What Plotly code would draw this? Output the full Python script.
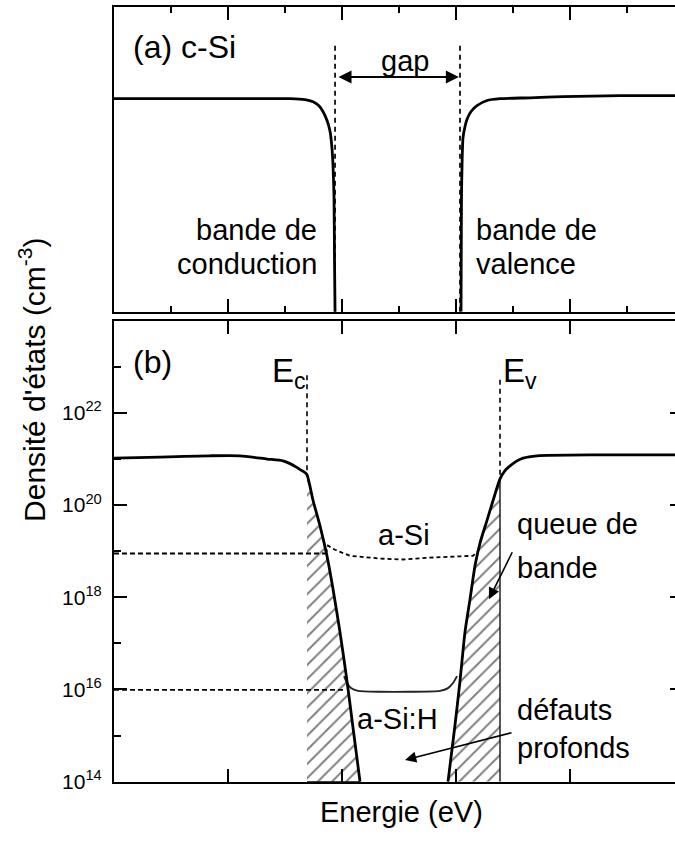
import plotly.graph_objects as go

# ---------------- (a) c-Si : density of states (linear, normalised) -------------
cb_c_energy = [0.000, 0.754, 1.193, 1.544, 1.675, 1.746, 1.798, 1.833, 1.868,
               1.895, 1.912, 1.921, 1.930, 1.934, 1.939]
cb_c_dos = [0.699, 0.699, 0.699, 0.699, 0.696, 0.689, 0.676, 0.657, 0.628,
            0.592, 0.537, 0.482, 0.375, 0.181, 0.000]

vb_c_energy = [3.044, 3.048, 3.053, 3.061, 3.079, 3.096, 3.132, 3.184, 3.272,
               3.386, 3.649, 3.939, 4.439, 4.921]
vb_c_dos = [0.000, 0.375, 0.482, 0.570, 0.608, 0.631, 0.657, 0.676, 0.693,
            0.699, 0.702, 0.706, 0.709, 0.709]

gap_edges_c = [1.939, 3.035]      # band edges of c-Si
gap_marker_top = 0.877
gap_arrow_level = 0.770

# ---------------- (b) a-Si / a-Si:H : log10 of density of states -----------------
cb_a_energy = [0.000, 0.404, 0.842, 1.105, 1.342, 1.482, 1.544, 1.596, 1.632,
               1.667, 1.693, 1.746, 1.807, 1.868, 1.921, 1.982, 2.044, 2.096, 2.158]
cb_a_logdos = [21.02, 21.04, 21.07, 21.07, 21.00, 20.96, 20.90, 20.83, 20.77,
               20.72, 20.66, 20.10, 19.55, 18.90, 18.18, 17.25, 16.18, 15.18, 14.00]

vb_a_energy = [2.930, 2.991, 3.035, 3.079, 3.123, 3.167, 3.211, 3.272, 3.325,
               3.386, 3.430, 3.474, 3.535, 3.588, 3.711, 4.237, 4.921]
vb_a_logdos = [14.00, 15.22, 16.18, 17.25, 17.96, 18.69, 19.18, 19.67, 20.10,
               20.57, 20.75, 20.85, 20.96, 21.02, 21.07, 21.09, 21.09]

# deep defect states of a-Si:H
deep_h_energy = [2.018, 2.044, 2.079, 2.140, 2.333, 2.596, 2.860, 2.930, 2.974, 3.009]
deep_h_logdos = [16.29, 16.14, 16.03, 15.97, 15.95, 15.95, 15.97, 16.03, 16.14, 16.29]

# deep defect states of a-Si
deep_a_energy = [1.860, 1.877, 1.939, 2.070, 2.333, 2.535, 2.772, 3.035, 3.149, 3.184]
deep_a_logdos = [18.95, 19.12, 19.03, 18.90, 18.84, 18.82, 18.86, 18.88, 18.90, 18.99]

# reference levels drawn from the density axis
level_asi = [0.000, 1.860, 18.95]     # x start, x end, log10 level
level_asih = [0.000, 2.026, 15.99]

Ec_b, Ev_b = 1.693, 3.386
Ec_top, Ev_top = 22.82, 22.72

major_exp = [14, 16, 18, 20, 22]
minor_exp = [15, 17, 19, 21, 23]
tick_text = ["10<sup>%d</sup>" % e for e in major_exp]

x_major = [1, 2, 3, 4]
x_minor = [0.5, 1.5, 2.5, 3.5, 4.5]

# ------------------------------------------------------------------------------
W, H = 675, 841
FONT = "Liberation Sans, Arial, sans-serif"
X_RANGE = [0, 4.921]


def px(v):
    return v / W


def py(v):
    return 1 - v / H


def dec(vals):
    return [10.0 ** v for v in vals]


fig = go.Figure()

line_kw = dict(color="black", width=2.8, shape="spline", smoothing=0.6)

# panel (a)
fig.add_trace(go.Scatter(x=cb_c_energy, y=cb_c_dos, mode="lines", line=line_kw,
                         xaxis="x", yaxis="y", hoverinfo="skip"))
fig.add_trace(go.Scatter(x=vb_c_energy, y=vb_c_dos, mode="lines", line=line_kw,
                         xaxis="x", yaxis="y", hoverinfo="skip"))
for e in gap_edges_c:
    fig.add_trace(go.Scatter(x=[e, e], y=[0, gap_marker_top], mode="lines",
                             line=dict(color="black", width=1.7, dash="5px,4px"),
                             xaxis="x", yaxis="y", hoverinfo="skip"))

# panel (b): hatched band tails
hatch = dict(shape="/", fgcolor="black", bgcolor="white", size=10, solidity=0.2)
sel_c = [i for i, v in enumerate(cb_a_energy) if v >= Ec_b]
tail_c_x = [cb_a_energy[i] for i in sel_c] + [Ec_b]
tail_c_y = [cb_a_logdos[i] for i in sel_c] + [major_exp[0]]
sel_v = [i for i, v in enumerate(vb_a_energy) if v <= Ev_b]
tail_v_x = [vb_a_energy[i] for i in sel_v] + [Ev_b]
tail_v_y = [vb_a_logdos[i] for i in sel_v] + [major_exp[0]]
for tx, ty in ((tail_c_x, tail_c_y), (tail_v_x, tail_v_y)):
    fig.add_trace(go.Scatter(x=tx, y=dec(ty), mode="lines", fill="toself",
                             fillcolor="white", fillpattern=hatch,
                             line=dict(color="black", width=1.3),
                             xaxis="x2", yaxis="y2", hoverinfo="skip"))

# band edge markers
fig.add_trace(go.Scatter(x=[Ec_b, Ec_b], y=dec([Ec_top, cb_a_logdos[cb_a_energy.index(Ec_b)]]),
                         mode="lines", line=dict(color="black", width=1.6, dash="5px,4px"),
                         xaxis="x2", yaxis="y2", hoverinfo="skip"))
fig.add_trace(go.Scatter(x=[Ev_b, Ev_b], y=dec([Ev_top, vb_a_logdos[vb_a_energy.index(Ev_b)]]),
                         mode="lines", line=dict(color="black", width=1.6, dash="5px,4px"),
                         xaxis="x2", yaxis="y2", hoverinfo="skip"))

# defect levels
for lv in (level_asi, level_asih):
    fig.add_trace(go.Scatter(x=lv[:2], y=dec([lv[2], lv[2]]), mode="lines",
                             line=dict(color="black", width=1.8, dash="5px,3px"),
                             xaxis="x2", yaxis="y2", hoverinfo="skip"))
fig.add_trace(go.Scatter(x=deep_a_energy, y=dec(deep_a_logdos), mode="lines",
                         line=dict(color="black", width=1.8, dash="4px,3px"),
                         xaxis="x2", yaxis="y2", hoverinfo="skip"))
fig.add_trace(go.Scatter(x=deep_h_energy, y=dec(deep_h_logdos), mode="lines",
                         line=dict(color="#222", width=1.9, shape="spline", smoothing=0.6),
                         xaxis="x2", yaxis="y2", hoverinfo="skip"))

# bands (valence band on the overlaid right-hand axis, same scale)
fig.add_trace(go.Scatter(x=cb_a_energy, y=dec(cb_a_logdos), mode="lines", line=line_kw,
                         xaxis="x2", yaxis="y2", hoverinfo="skip"))
fig.add_trace(go.Scatter(x=vb_a_energy, y=dec(vb_a_logdos), mode="lines", line=line_kw,
                         xaxis="x2", yaxis="y3", hoverinfo="skip"))

# ------------------------------------------------------------------------------
x_dom = [px(114), 1.0]
axis_common = dict(showgrid=False, zeroline=False, linecolor="black", linewidth=2,
                   showline=True)

fig.update_layout(
    width=W, height=H,
    margin=dict(l=0, r=0, t=0, b=0),
    paper_bgcolor="white", plot_bgcolor="white",
    showlegend=False,
    font=dict(family=FONT, color="black"),
    xaxis=dict(domain=x_dom, range=X_RANGE, anchor="y", mirror="ticks",
               ticks="inside", tickvals=x_major, ticklen=13, tickwidth=1.5,
               tickcolor="black", showticklabels=False,
               minor=dict(tickvals=x_minor, ticks="inside", ticklen=6,
                          tickwidth=1.5, tickcolor="black"),
               **axis_common),
    yaxis=dict(domain=[py(316), py(7)], range=[0, 1], anchor="x", mirror=False,
               ticks="", showticklabels=False, **axis_common),
    xaxis2=dict(domain=x_dom, range=X_RANGE, anchor="y2", mirror="ticks",
                ticks="inside", tickvals=x_major, ticklen=13, tickwidth=1.5,
                tickcolor="black", showticklabels=False, **axis_common),
    yaxis2=dict(domain=[py(792), py(325)], type="log", range=[14, 24], anchor="x2",
                mirror=False, ticks="inside", tickvals=dec(major_exp),
                ticktext=tick_text, ticklen=13, tickwidth=1.5, tickcolor="black",
                tickfont=dict(size=21, family=FONT, color="black"),
                ticklabelstandoff=6,
                minor=dict(tickvals=dec(minor_exp), ticks="inside", ticklen=7,
                           tickwidth=1.5, tickcolor="black"),
                **axis_common),
    yaxis3=dict(overlaying="y2", side="right", anchor="x2", type="log",
                range=[14, 24], ticks="inside", tickvals=dec(major_exp),
                ticklen=5, tickwidth=1.5, tickcolor="black",
                showticklabels=False, showline=False, showgrid=False,
                zeroline=False),
)

ann = []


def label(text, x, y, size=29, xanchor="left", **kw):
    ann.append(dict(text=text, x=px(x), y=py(y), xref="paper", yref="paper",
                    xanchor=xanchor, yanchor="middle", showarrow=False,
                    font=dict(size=size, family=FONT, color="black"), **kw))


label("(a) c-Si", 131, 48, size=32)
label("gap", 405, 62, xanchor="center")
label("bande de", 319, 233, xanchor="right")
label("conduction", 319, 268, xanchor="right")
label("bande de", 474, 233)
label("valence", 474, 268)

label("(b)", 131, 367, size=32)
label("E<sub>c</sub>", 270, 378, size=33)
label("E<sub>v</sub>", 501, 378, size=33)
label("a-Si", 404, 542, xanchor="center")
label("queue de", 515, 531)
label("bande", 515, 576)
label("a-Si:H", 355, 729)
label("défauts", 515, 719)
label("profonds", 515, 758)
label("Energie (eV)", 401, 823, xanchor="center")
label("Densité d'états (cm<sup>-3</sup>)", 32, 385, size=30, xanchor="center",
      textangle=-90)

# arrows
ann.append(dict(x=gap_edges_c[1] - 0.01, y=gap_arrow_level, ax=gap_edges_c[0] + 0.017,
                ay=gap_arrow_level, xref="x", yref="y", axref="x", ayref="y",
                text="", showarrow=True, arrowhead=2, arrowside="end+start",
                arrowsize=1.3, arrowwidth=2, arrowcolor="black", standoff=0,
                startstandoff=0))
ann.append(dict(x=3.289, y=17.96, ax=3.500, ay=19.01, xref="x2", yref="y2",
                axref="x2", ayref="y2", text="", showarrow=True, arrowhead=2,
                arrowsize=1.4, arrowwidth=1.6, arrowcolor="black", standoff=0))
ann.append(dict(x=2.553, y=14.47, ax=3.500, ay=15.07, xref="x2", yref="y2",
                axref="x2", ayref="y2", text="", showarrow=True, arrowhead=2,
                arrowsize=1.4, arrowwidth=1.6, arrowcolor="black", standoff=0))

fig.update_layout(annotations=ann)
fig.write_html("out.html")
